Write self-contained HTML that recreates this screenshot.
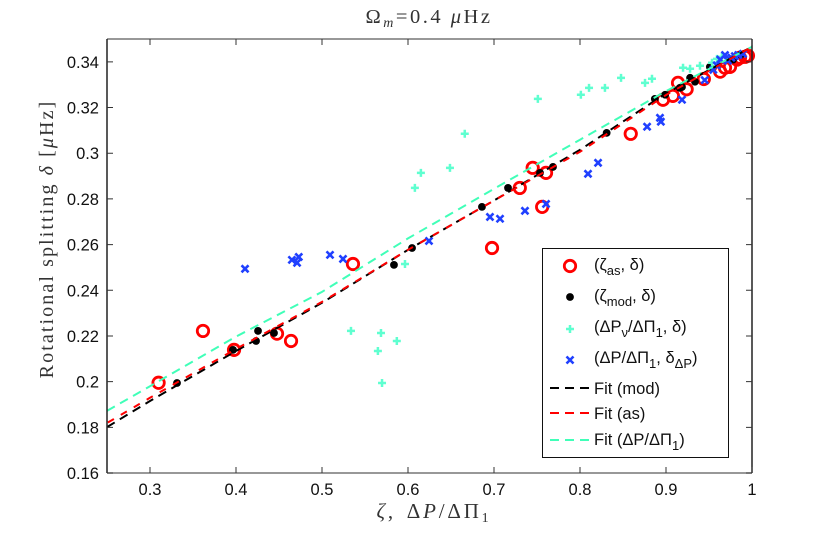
<!DOCTYPE html>
<html><head><meta charset="utf-8">
<style>
html,body{margin:0;padding:0;background:#fff;width:830px;height:538px;overflow:hidden}
svg{display:block}
.tick{font:16.5px "Liberation Sans",sans-serif;fill:#111}
.cm{font-family:"Liberation Serif",serif;fill:#333}
.leg{font:16.5px "Liberation Sans",sans-serif;fill:#111}
</style></head>
<body>
<svg id="chart" width="830" height="538" viewBox="0 0 830 538">
<text class="cm" x="429" y="23" text-anchor="middle" font-size="20.5" letter-spacing="2.5">Ω<tspan dy="4" font-size="14" font-style="italic">m</tspan><tspan dy="-4">=0.4 </tspan><tspan font-style="italic"> μ</tspan>Hz</text>
<text class="cm" transform="translate(53,239) rotate(-90)" text-anchor="middle" font-size="20" letter-spacing="2.1">Rotational splitting <tspan font-style="italic">δ</tspan> [<tspan font-style="italic">μ</tspan>Hz]</text>
<text class="cm" x="434" y="518" text-anchor="middle" font-size="21" letter-spacing="2.8"><tspan font-style="italic">ζ</tspan>, <tspan dx="4">Δ</tspan><tspan font-style="italic">P</tspan>/ΔΠ<tspan dy="4" font-size="14">1</tspan></text>
<g id="marks"></g>
<g id="axes"></g>
<g>
<rect x="542.5" y="248.5" width="186" height="209" fill="#fff" stroke="#111" stroke-width="1"/>
<g>
<circle cx="570" cy="266" r="5.7" fill="none" stroke="#f00" stroke-width="2.8"/>
<text class="leg" x="594" y="270">(ζ<tspan dy="5" font-size="13">as</tspan><tspan dy="-5">, δ)</tspan></text></g>
<g>
<circle cx="570" cy="297" r="3.9" fill="#000"/>
<text class="leg" x="594" y="301">(ζ<tspan dy="5" font-size="13">mod</tspan><tspan dy="-5">, δ)</tspan></text></g>
<g>
<path d="M570 325V333M566 329H574" stroke="#5fffd0" stroke-width="2.5" fill="none"/>
<text class="leg" x="594" y="332">(ΔP<tspan dy="5" font-size="13">ν</tspan><tspan dy="-5">/ΔΠ</tspan><tspan dy="5" font-size="13">1</tspan><tspan dy="-5">, δ)</tspan></text></g>
<g>
<path d="M566.5 356.5L573.5 363.5M573.5 356.5L566.5 363.5" stroke="#2040ff" stroke-width="2.6" fill="none"/>
<text class="leg" x="594" y="363">(ΔP/ΔΠ<tspan dy="5" font-size="13">1</tspan><tspan dy="-5">, δ</tspan><tspan dy="5" font-size="13">ΔP</tspan><tspan dy="-5">)</tspan></text></g>
<g>
<line x1="550" x2="590" y1="388" y2="388" stroke="#000" stroke-width="2" stroke-dasharray="9 6"/>
<text class="leg" x="594" y="394">Fit (mod)</text></g>
<g>
<line x1="550" x2="590" y1="413" y2="413" stroke="#f00" stroke-width="2" stroke-dasharray="9 6"/>
<text class="leg" x="594" y="419">Fit (as)</text></g>
<g>
<line x1="550" x2="590" y1="440" y2="440" stroke="#40ffb8" stroke-width="2" stroke-dasharray="9 6"/>
<text class="leg" x="594" y="445">Fit (ΔP/ΔΠ<tspan dy="5" font-size="13">1</tspan><tspan dy="-5">)</tspan></text></g>
</g>
</svg>
<script>
const xTicks = [0.3,0.4,0.5,0.6,0.7,0.8,0.9,1];
const xTickLabels = ['0.3','0.4','0.5','0.6','0.7','0.8','0.9','1'];
const yTicks = [0.16,0.18,0.2,0.22,0.24,0.26,0.28,0.3,0.32,0.34];
const yTickLabels = ['0.16','0.18','0.2','0.22','0.24','0.26','0.28','0.3','0.32','0.34'];

const redX = [0.310,0.3616,0.3977,0.4477,0.464,0.536,0.6977,0.730,0.745,0.756,0.7605,0.859,0.8965,0.908,0.914,0.924,0.944,0.963,0.9686,0.9744,0.9826,0.986,0.992,0.9953];
const redY = [0.1995,0.2222,0.2139,0.221,0.2178,0.2515,0.2585,0.2848,0.2936,0.2765,0.2914,0.3085,0.3234,0.3251,0.3308,0.328,0.3325,0.3357,0.3374,0.3378,0.341,0.3418,0.3422,0.3427];

const blackX = [0.3314,0.3965,0.4233,0.4256,0.4442,0.5837,0.6047,0.686,0.7163,0.7535,0.7686,0.831,0.887,0.899,0.916,0.9186,0.928,0.9337,0.951,0.978,0.987];
const blackY = [0.1994,0.2139,0.2178,0.2222,0.2213,0.2511,0.2585,0.2765,0.2848,0.2914,0.294,0.3089,0.3238,0.3256,0.3286,0.329,0.333,0.3313,0.3378,0.341,0.3431];

const cyanX = [0.5337,0.5686,0.565,0.587,0.5698,0.5965,0.608,0.615,0.6488,0.666,0.751,0.801,0.8105,0.829,0.8477,0.8756,0.8837,0.9198,0.928,0.9395,0.9535,0.9593,0.965];
const cyanY = [0.2222,0.2213,0.2134,0.2178,0.1994,0.2515,0.2848,0.2914,0.2936,0.3085,0.3238,0.3256,0.3286,0.3286,0.333,0.3308,0.3326,0.3374,0.337,0.3383,0.3396,0.3413,0.3422];

const blueX = [0.4105,0.465,0.471,0.473,0.5093,0.5244,0.6244,0.6953,0.707,0.736,0.7605,0.8093,0.821,0.878,0.893,0.894,0.9186,0.945,0.955,0.959,0.963,0.9686,0.972,0.976,0.98,0.984,0.9895];
const blueY = [0.2494,0.2533,0.252,0.2546,0.2555,0.2537,0.2616,0.2721,0.2713,0.2748,0.2778,0.291,0.2958,0.3116,0.3155,0.3138,0.3234,0.332,0.3365,0.3385,0.341,0.343,0.3405,0.3418,0.3425,0.343,0.3435];

const fitX = [0.25,0.3,0.4,0.5,0.6,0.7,0.8,0.9,1];
const fitBlack = [0.1801,0.1915,0.2134,0.2345,0.2577,0.2793,0.3015,0.3262,0.3466];
const fitRed = [0.1819,0.1929,0.2143,0.2349,0.2577,0.2793,0.3006,0.3255,0.3466];
const fitCyan = [0.1872,0.198,0.2197,0.2393,0.2627,0.2844,0.3059,0.3272,0.3466];

const plotLeft = 107, plotRight = 752, plotTop = 39, plotBottom = 473;
const xMin = 0.25, xMax = 1, yMin = 0.16, yMax = 0.35;
function xScale(v){ return plotLeft + (v - xMin) / (xMax - xMin) * (plotRight - plotLeft); }
function yScale(v){ return plotBottom - (v - yMin) / (yMax - yMin) * (plotBottom - plotTop); }

const NS = 'http://www.w3.org/2000/svg';
const marks = document.getElementById('marks');
const axes = document.getElementById('axes');
function make(tag, parent, attrs){
  const el = document.createElementNS(NS, tag);
  for (const k in attrs) el.setAttribute(k, attrs[k]);
  parent.appendChild(el);
  return el;
}

redX.forEach(function(v, i){
  const el = make('circle', marks, {cx: xScale(v), cy: yScale(redY[i]), r: 5.7, fill: 'none', stroke: '#f00', 'stroke-width': 2.8});
  
  
});
blackX.forEach(function(v, i){
  const el = make('circle', marks, {cx: xScale(v), cy: yScale(blackY[i]), r: 3.9, fill: '#000'});
  
  
});
cyanX.forEach(function(v, i){
  const px = xScale(v), py = yScale(cyanY[i]);
  const el = make('path', marks, {d: 'M' + px + ' ' + (py - 4) + 'V' + (py + 4) + 'M' + (px - 4) + ' ' + py + 'H' + (px + 4), stroke: '#5fffd0', 'stroke-width': 2.5, fill: 'none'});
  
  
});
blueX.forEach(function(v, i){
  const px = xScale(v), py = yScale(blueY[i]);
  const el = make('path', marks, {d: 'M' + (px - 3.5) + ' ' + (py - 3.5) + 'L' + (px + 3.5) + ' ' + (py + 3.5) + 'M' + (px + 3.5) + ' ' + (py - 3.5) + 'L' + (px - 3.5) + ' ' + (py + 3.5), stroke: '#2040ff', 'stroke-width': 2.6, fill: 'none'});
  
  
});
function fitPath(values){
  return values.map(function(v, i){ return (i ? 'L' : 'M') + xScale(fitX[i]).toFixed(1) + ' ' + yScale(v).toFixed(1); }).join('');
}
const lineCyan = make('path', marks, {d: fitPath(fitCyan), fill: 'none', stroke: '#40ffb8', 'stroke-width': 2, 'stroke-dasharray': '9 6'});


const lineBlack = make('path', marks, {d: fitPath(fitBlack), fill: 'none', stroke: '#000', 'stroke-width': 2, 'stroke-dasharray': '9 6'});


const lineRed = make('path', marks, {d: fitPath(fitRed), fill: 'none', stroke: '#f00', 'stroke-width': 2, 'stroke-dasharray': '7 8', 'stroke-dashoffset': -1});



const frameTop = make('line', axes, {x1: plotLeft, x2: plotRight, y1: plotTop, y2: plotTop, stroke: '#777', 'stroke-width': 1.5});


const frameBottom = make('line', axes, {x1: plotLeft, x2: plotRight, y1: plotBottom, y2: plotBottom, stroke: '#777', 'stroke-width': 1.5});


const frameLeft = make('line', axes, {x1: plotLeft, x2: plotLeft, y1: plotTop, y2: plotBottom, stroke: '#222', 'stroke-width': 1.5});


const frameRight = make('line', axes, {x1: plotRight, x2: plotRight, y1: plotTop, y2: plotBottom, stroke: '#222', 'stroke-width': 1.5});



xTicks.forEach(function(v, i){
  const px = xScale(v);
  const t = make('path', axes, {d: 'M' + px + ' ' + plotBottom + 'v-6M' + px + ' ' + plotTop + 'v6', stroke: '#333', 'stroke-width': 1, fill: 'none'});
  
  
  const lab = make('text', axes, {x: px, y: 495, 'text-anchor': 'middle', class: 'tick'});
  
  
  lab.textContent = xTickLabels[i];
});
yTicks.forEach(function(v, i){
  const py = yScale(v);
  const t = make('path', axes, {d: 'M' + plotLeft + ' ' + py + 'h6M' + plotRight + ' ' + py + 'h-6', stroke: '#333', 'stroke-width': 1, fill: 'none'});
  
  
  const lab = make('text', axes, {x: 99, y: py + 6, 'text-anchor': 'end', class: 'tick'});
  
  
  lab.textContent = yTickLabels[i];
});
</script>
</body></html>
